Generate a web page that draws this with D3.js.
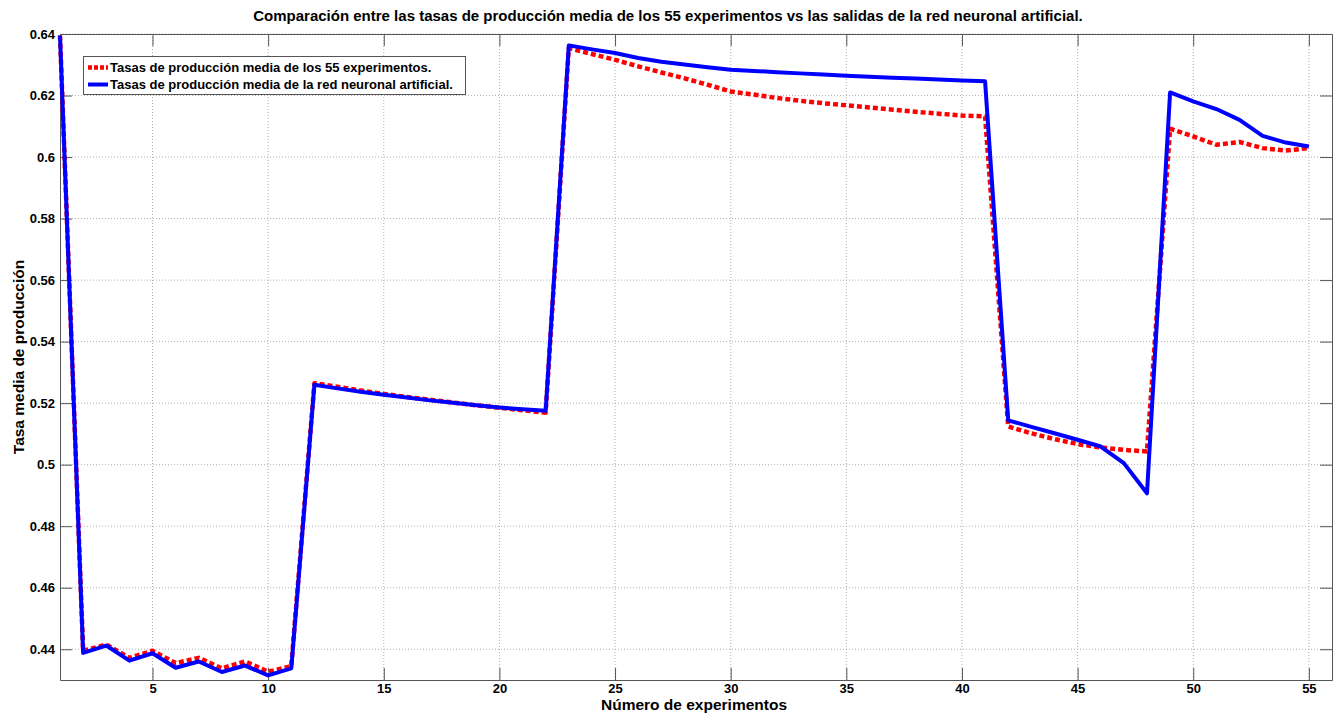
<!DOCTYPE html>
<html>
<head>
<meta charset="utf-8">
<script src="https://cdn.jsdelivr.net/npm/d3@7"></script>
<style>
  html, body { margin: 0; padding: 0; background: #fff; }
  svg { display: block; font-family: "Liberation Sans", Arial, Helvetica, sans-serif; }
</style>
</head>
<body>
<svg id="chart" width="1338" height="719"></svg>
<script>
const experiments = d3.range(1, 56);
const measured = [
  0.6395, 0.4395, 0.4415, 0.4372, 0.4395, 0.4355, 0.4372, 0.4338, 0.4360, 0.4327,
  0.4345, 0.5265, 0.5253, 0.5241, 0.5230, 0.5220, 0.5211, 0.5202, 0.5193, 0.5185,
  0.5177, 0.5169, 0.6354, 0.6335, 0.6316, 0.6295, 0.6275, 0.6256, 0.6235, 0.6213,
  0.6203, 0.6192, 0.6183, 0.6175, 0.6168, 0.6161, 0.6154, 0.6147, 0.6141, 0.6135,
  0.6132, 0.5124, 0.5102, 0.5083, 0.5067, 0.5056, 0.5048, 0.5043, 0.6092, 0.6067,
  0.6040, 0.6049, 0.6029, 0.6021, 0.6029
];
const network = [
  0.6395, 0.4388, 0.4412, 0.4363, 0.4387, 0.4340, 0.4360, 0.4326, 0.4347, 0.4315,
  0.4338, 0.5260, 0.5248, 0.5237, 0.5227, 0.5218, 0.5209, 0.5201, 0.5193, 0.5186,
  0.5180, 0.5175, 0.6363, 0.6350, 0.6338, 0.6322, 0.6310, 0.6301, 0.6292, 0.6284,
  0.6280, 0.6276, 0.6272, 0.6268, 0.6264, 0.6261, 0.6258, 0.6255, 0.6252, 0.6249,
  0.6246, 0.5144, 0.5123, 0.5102, 0.5081, 0.5059, 0.5005, 0.4907, 0.6210, 0.6181,
  0.6156, 0.6121, 0.6069, 0.6047, 0.6034
];
const xTicks = [5, 10, 15, 20, 25, 30, 35, 40, 45, 50, 55];
const yTicks = [0.44, 0.46, 0.48, 0.5, 0.52, 0.54, 0.56, 0.58, 0.6, 0.62, 0.64];
const seriesNames = [
  "Tasas de producción media de los 55 experimentos.",
  "Tasas de producción media de la red neuronal artificial."
];
const titleText = "Comparación entre las tasas de producción media de los 55 experimentos vs las salidas de la red neuronal artificial.";
const xLabel = "Número de experimentos";
const yLabel = "Tasa media de producción";

const svg = d3.select("#chart");
const L = 60, R = 1332, T = 34, B = 680;
const x = d3.scaleLinear().domain([1, 56]).range([L, R]);
const y = d3.scaleLinear().domain([0.43, 0.64]).range([B, T]);
const fmt = d => d3.format("")(+d.toFixed(2));
const axisColor = "#555";
const tickLen = 12;

// grid
const grid = svg.append("g");
grid.selectAll(".gx").data(xTicks).join("line")
  .attr("x1", d => x(d)).attr("x2", d => x(d)).attr("y1", T).attr("y2", B)
  .attr("stroke", "#b0b0b0").attr("stroke-width", 1).attr("stroke-dasharray", "1,2");
grid.selectAll(".gy").data(yTicks).join("line")
  .attr("x1", L).attr("x2", R).attr("y1", d => y(d)).attr("y2", d => y(d))
  .attr("stroke", "#b0b0b0").attr("stroke-width", 1).attr("stroke-dasharray", "1,2");

// axes with inward ticks
const axB = svg.append("g").attr("transform", `translate(0,${B})`)
  .call(d3.axisBottom(x).tickValues(xTicks).tickSize(-tickLen).tickPadding(4).tickSizeOuter(0));
const axT = svg.append("g").attr("transform", `translate(0,${T})`)
  .call(d3.axisTop(x).tickValues(xTicks).tickSize(-tickLen).tickFormat("").tickSizeOuter(0));
const axL = svg.append("g").attr("transform", `translate(${L},0)`)
  .call(d3.axisLeft(y).tickValues(yTicks).tickSize(-tickLen).tickPadding(5).tickFormat(fmt).tickSizeOuter(0));
const axR = svg.append("g").attr("transform", `translate(${R},0)`)
  .call(d3.axisRight(y).tickValues(yTicks).tickSize(-tickLen).tickFormat("").tickSizeOuter(0));
[axB, axT, axL, axR].forEach(a => {
  a.select(".domain").attr("stroke", axisColor).attr("stroke-width", 1);
  a.selectAll(".tick line").attr("stroke", axisColor).attr("stroke-width", 1);
  a.selectAll(".tick text").attr("fill", "#000").attr("font-size", 13).attr("font-weight", "bold")
    .attr("font-family", "'Liberation Sans', Arial, sans-serif");
});

// lines
const line = d3.line().x((d, i) => x(experiments[i])).y(d => y(d));
svg.append("path").datum(measured).attr("d", line)
  .attr("fill", "none").attr("stroke", "#ff0000").attr("stroke-width", 4.5)
  .attr("stroke-dasharray", "5,3").attr("stroke-linejoin", "round");
svg.append("path").datum(network).attr("d", line)
  .attr("fill", "none").attr("stroke", "#0000ff").attr("stroke-width", 4)
  .attr("stroke-linejoin", "round");

// legend
const lg = svg.append("g");
lg.append("rect").attr("x", 83.5).attr("y", 56.5).attr("width", 382).attr("height", 38)
  .attr("fill", "#fff").attr("stroke", axisColor).attr("stroke-width", 1);
const legendStyles = [
  { color: "#ff0000", dash: "4,2", w: 4.5 },
  { color: "#0000ff", dash: null, w: 4 }
];
seriesNames.forEach((name, i) => {
  const yy = 67.5 + i * 17;
  lg.append("line").attr("x1", 88).attr("x2", 108).attr("y1", yy).attr("y2", yy)
    .attr("stroke", legendStyles[i].color).attr("stroke-width", legendStyles[i].w)
    .attr("stroke-dasharray", legendStyles[i].dash);
  lg.append("text").attr("x", 110).attr("y", yy).attr("dy", "0.35em")
    .attr("font-size", 13).attr("font-weight", "bold").text(name);
});

// title & labels
svg.append("text").attr("x", 668).attr("y", 21).attr("text-anchor", "middle")
  .attr("font-size", 15).attr("font-weight", "bold").text(titleText);
svg.append("text").attr("x", 694).attr("y", 710).attr("text-anchor", "middle")
  .attr("font-size", 15.5).attr("font-weight", "bold").text(xLabel);
svg.append("text").attr("transform", "translate(24,357) rotate(-90)").attr("text-anchor", "middle")
  .attr("font-size", 15.5).attr("font-weight", "bold").text(yLabel);
</script>
</body>
</html>
